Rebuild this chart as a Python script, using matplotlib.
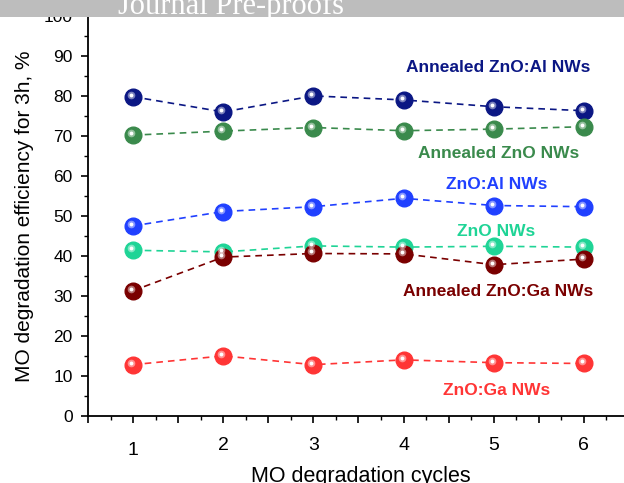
import matplotlib
matplotlib.use("Agg")
import matplotlib.pyplot as plt
import matplotlib.transforms as mtransforms
from matplotlib.ticker import MultipleLocator

plt.rcParams["font.family"] = ["Liberation Sans", "DejaVu Sans"]

cycles = [1, 2, 3, 4, 5, 6]

ann_znoal = [79.8, 76.0, 80.0, 79.0, 77.3, 76.3]
ann_zno = [70.2, 71.2, 72.1, 71.3, 71.7, 72.3]
znoal = [47.5, 51.1, 52.3, 54.4, 52.6, 52.3]
zno = [41.4, 41.0, 42.5, 42.2, 42.4, 42.2]
ann_znoga = [31.3, 39.7, 40.6, 40.5, 37.8, 39.2]
znoga = [12.8, 15.0, 12.8, 14.0, 13.3, 13.1]

series = [ann_znoal, ann_zno, znoal, zno, ann_znoga, znoga]
names = ["Annealed ZnO:Al NWs", "Annealed ZnO NWs", "ZnO:Al NWs",
         "ZnO NWs", "Annealed ZnO:Ga NWs", "ZnO:Ga NWs"]
colors = ["#0b1784", "#3a8a4c", "#2040ff", "#1fd496", "#7a0000", "#ff3535"]
label_pos = [(5.05, 87), (5.05, 65.5), (5.03, 57.8), (5.03, 46),
             (5.05, 31.2), (5.03, 6.3)]

fig = plt.figure(figsize=(6.24, 4.83), dpi=100)
ax = fig.add_axes([0.141, 0.139, 0.867, 0.828])

# small white highlight offset up-left for the "sphere" look
hl = mtransforms.offset_copy(ax.transData, fig=fig, x=-2, y=2, units="dots")

for ys, c, nm, (lx, ly) in zip(series, colors, names, label_pos):
    ax.plot(cycles, ys, ls=(0, (4, 3)), lw=1.2, color=c, zorder=2)
    ax.plot(cycles, ys, ls="none", marker="o", ms=12, color=c,
            markeredgecolor=c, zorder=3)
    ax.plot(cycles, ys, ls="none", marker="o", ms=5.5, color="white",
            alpha=0.45, markeredgewidth=0, transform=hl, zorder=4)
    ax.plot(cycles, ys, ls="none", marker="o", ms=2.8, color="white",
            markeredgewidth=0, transform=hl, zorder=5)
    ax.text(lx, ly, nm, color=c, fontsize=12.5, fontweight="bold",
            ha="center", va="center")

ax.set_xlim(0.5, 6.5)
ax.set_ylim(0, 100)
ax.xaxis.set_major_locator(MultipleLocator(0.5))
ax.xaxis.set_minor_locator(MultipleLocator(0.25))
ax.set_xticklabels([])
ax.yaxis.set_major_locator(MultipleLocator(10))
ax.yaxis.set_minor_locator(MultipleLocator(5))
for x in cycles:
    ty = -8.6 if x == 1 else -7.3
    ax.text(x, ty, str(x), ha="center", va="center", fontsize=14)

ax.spines["top"].set_visible(False)
ax.spines["right"].set_visible(False)
ax.spines["left"].set_linewidth(1.3)
ax.spines["bottom"].set_linewidth(1.3)
ax.tick_params(which="major", length=5, width=1.2, labelsize=12.5, pad=6)
ax.tick_params(which="minor", length=3, width=1.0)

fig.text(0.578, 0.003, "MO degradation cycles", fontsize=15.5,
         ha="center", va="baseline")
ax.set_ylabel("MO degradation efficiency for 3h, %", fontsize=15)
ax.yaxis.set_label_coords(-0.1, 0.5)

# watermark banner at the top
bax = fig.add_axes([0, 0.965, 1, 0.035], zorder=10)
bax.set_facecolor("#bdbdbd")
bax.set_xticks([])
bax.set_yticks([])
for s in bax.spines.values():
    s.set_visible(False)
fig.text(0.37, 0.972, "Journal Pre-proofs", color="white", fontsize=22,
         family="Liberation Serif", ha="center", va="baseline", zorder=11)

fig.savefig("out.png", dpi=100, facecolor="white")
